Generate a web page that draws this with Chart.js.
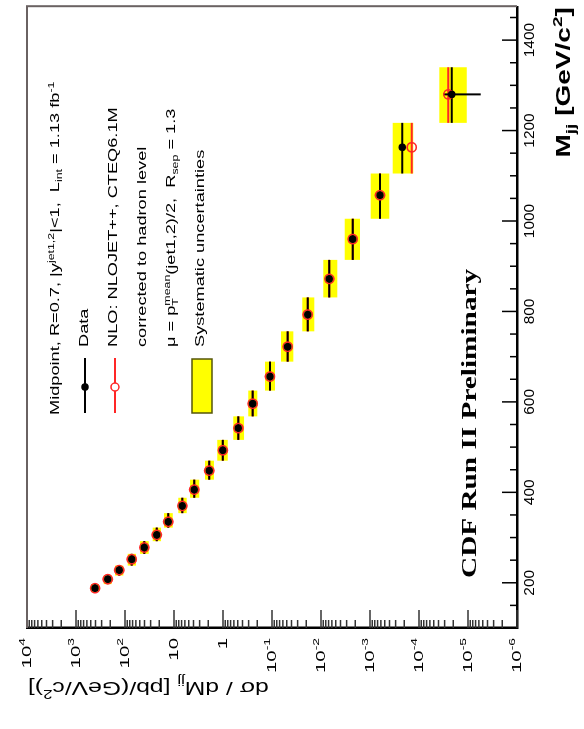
<!DOCTYPE html>
<html>
<head>
<meta charset="utf-8">
<script src="https://cdn.jsdelivr.net/npm/chart.js@4.4.0/dist/chart.umd.min.js"></script>
<style>
  html, body { margin: 0; padding: 0; background: #fff; }
  #wrap { position: relative; width: 584px; height: 729px; overflow: hidden; }
  /* the plot is laid out landscape and turned a quarter turn counter-clockwise */
  #chart { position: absolute; left: 0; top: 0; transform-origin: 0 0; transform: translateY(729px) rotate(-90deg); }
</style>
</head>
<body>
<div id="wrap"><canvas id="chart" width="729" height="584"></canvas></div>
<script>
// dijet mass bins [GeV/c^2]
const massBins = [180, 197, 216, 238, 264, 292, 322, 354, 388, 428, 470, 516, 568, 625, 689, 756, 831, 914, 1005, 1105, 1217, 1340];
const massPoints = [188, 208, 228, 252, 278, 306, 335, 370, 406, 448, 493, 542, 596, 656, 722, 793, 872, 960, 1057, 1163, 1280];

// dsigma/dMjj [pb/(GeV/c^2)]
const dataXsec = [409, 225, 131, 73, 40.4, 22.5, 13.1, 6.77, 3.86, 1.91, 1.01, 0.487, 0.248, 0.110, 0.0479, 0.0187, 0.00677, 0.00226, 6.25e-4, 2.19e-4, 2.15e-5];
const nloXsec = [409, 225, 131, 73, 40.4, 22.5, 13.1, 6.77, 3.86, 1.91, 1.01, 0.487, 0.248, 0.110, 0.0479, 0.0187, 0.00677, 0.00226, 6.25e-4, 1.41e-4, 2.52e-5];
const sysHigh = [494, 272, 160, 88.1, 49.4, 27.2, 16.0, 8.17, 4.71, 2.33, 1.31, 0.617, 0.305, 0.139, 0.0655, 0.0241, 0.00898, 0.00328, 9.68e-4, 3.44e-4, 3.85e-5];
const sysLow = [340, 187, 108, 59.7, 32.8, 18.4, 10.6, 5.51, 3.05, 1.53, 0.80, 0.372, 0.1995, 0.0869, 0.0367, 0.0137, 0.00465, 0.0016, 4.04e-4, 1.31e-4, 1.06e-5];
const statHigh = [null, null, null, null, null, null, null, null, null, null, null, null, null, null, null, null, null, null, null, 2.5e-4, 3.2e-5];
const statLow = [null, null, null, null, null, null, null, null, null, null, null, null, null, null, null, null, null, null, null, 1.9e-4, 5.5e-6];

// axes
const massMin = 100, massMax = 1475;
const xsecMin = 1e-6, xsecMax = 1e4;
const massTicks = [200, 400, 600, 800, 1000, 1200, 1400];
const massTickLabels = ['200', '400', '600', '800', '1000', '1200', '1400'];
const xsecTicks = [1e4, 1e3, 1e2, 1e1, 1, 1e-1, 1e-2, 1e-3, 1e-4, 1e-5, 1e-6];
const xsecTickLabels = [['10', '4'], ['10', '3'], ['10', '2'], ['10', ''], ['1', ''], ['10', '-1'], ['10', '-2'], ['10', '-3'], ['10', '-4'], ['10', '-5'], ['10', '-6']];

const SANS = '"Liberation Sans", Arial, sans-serif';
const SERIF = '"Liberation Serif", "Times New Roman", serif';
const RED = '#ff2626';

function fontFor(o, kind) {
  const s = (kind === 'sup' || kind === 'sub' || kind === 'subh') ? o.size * 0.68 : o.size;
  return (o.weight || 'normal') + ' ' + s + 'px ' + (o.family || SANS);
}

function richWidth(ctx, parts, o) {
  let w = 0;
  for (const [t, kind] of parts) {
    ctx.font = fontFor(o, kind);
    if (kind !== 'subh') w += ctx.measureText(t).width;
  }
  return w;
}

// draws text made of pieces, with sub/superscripts, widened by o.sx
function drawRich(ctx, parts, x, y, o) {
  const w = richWidth(ctx, parts, o);
  ctx.save();
  ctx.translate(x, y);
  if (o.rotate) ctx.rotate(o.rotate);
  ctx.scale(o.sx || 1, 1);
  ctx.fillStyle = o.color || '#000';
  ctx.textBaseline = 'alphabetic';
  ctx.textAlign = 'left';
  let cx = o.align === 'right' ? -w : o.align === 'center' ? -w / 2 : 0;
  for (const [t, kind] of parts) {
    ctx.font = fontFor(o, kind);
    let dy = 0;
    if (kind === 'sup') dy = -o.size * 0.42;
    if (kind === 'sub' || kind === 'subh') dy = o.size * 0.25;
    ctx.fillText(t, cx, dy);
    if (kind !== 'subh') cx += ctx.measureText(t).width;
  }
  ctx.restore();
}

// bin widths, systematic bands and statistical bars
const errorBars = {
  id: 'errorBars',
  beforeDatasetsDraw(chart) {
    const { ctx, scales: { x, y } } = chart;
    ctx.save();
    ctx.fillStyle = '#ffff00';
    massPoints.forEach((m, i) => {
      const x0 = x.getPixelForValue(massBins[i]);
      const x1 = x.getPixelForValue(massBins[i + 1]);
      const y0 = y.getPixelForValue(sysHigh[i]);
      const y1 = y.getPixelForValue(sysLow[i]);
      ctx.fillRect(x0, y0, x1 - x0, y1 - y0);
    });
    ctx.lineWidth = 2;
    ctx.strokeStyle = RED;
    massPoints.forEach((m, i) => {
      const yy = y.getPixelForValue(nloXsec[i]);
      ctx.beginPath();
      ctx.moveTo(x.getPixelForValue(massBins[i]), yy);
      ctx.lineTo(x.getPixelForValue(massBins[i + 1]), yy);
      ctx.stroke();
    });
    ctx.strokeStyle = '#000';
    massPoints.forEach((m, i) => {
      const yy = y.getPixelForValue(dataXsec[i]);
      ctx.beginPath();
      ctx.moveTo(x.getPixelForValue(massBins[i]), yy);
      ctx.lineTo(x.getPixelForValue(massBins[i + 1]), yy);
      ctx.stroke();
      if (statHigh[i] !== null) {
        const xx = x.getPixelForValue(m);
        ctx.beginPath();
        ctx.moveTo(xx, y.getPixelForValue(statHigh[i]));
        ctx.lineTo(xx, y.getPixelForValue(statLow[i]));
        ctx.stroke();
      }
    });
    ctx.restore();
  }
};

// frame, inward ticks, tick labels, titles and legend
const decorations = {
  id: 'decorations',
  afterDraw(chart) {
    const { ctx, chartArea: a, scales: { x, y } } = chart;
    ctx.save();

    // upper and far frame edges
    ctx.strokeStyle = '#6a6262';
    ctx.lineWidth = 2;
    ctx.beginPath();
    ctx.moveTo(a.left, a.top);
    ctx.lineTo(a.right, a.top);
    ctx.lineTo(a.right, a.bottom);
    ctx.stroke();

    // ticks pointing into the frame
    ctx.strokeStyle = '#000';
    ctx.lineWidth = 1.5;
    for (let m = massMin; m <= massMax; m += 50) {
      const px = x.getPixelForValue(m);
      const len = massTicks.includes(m) ? 15 : 7;
      ctx.beginPath();
      ctx.moveTo(px, a.bottom);
      ctx.lineTo(px, a.bottom - len);
      ctx.stroke();
    }
    ctx.strokeStyle = '#333';
    for (let e = -6; e < 4; e++) {
      for (let k = 1; k < 10; k++) {
        const py = y.getPixelForValue(k * Math.pow(10, e));
        const len = k === 1 ? 18 : 8;
        ctx.beginPath();
        ctx.moveTo(a.left, py);
        ctx.lineTo(a.left + len, py);
        ctx.stroke();
      }
    }

    // tick labels
    massTicks.forEach((v, i) => {
      drawRich(ctx, [[massTickLabels[i]]], x.getPixelForValue(v), a.bottom + 17, { size: 14, sx: 1.1, align: 'center' });
    });
    xsecTicks.forEach((v, i) => {
      const [base, exp] = xsecTickLabels[i];
      const parts = exp ? [[base], [exp, 'sup']] : [[base]];
      drawRich(ctx, parts, a.left - 10, y.getPixelForValue(v) + 3.5, { size: 12, sx: 1.7, align: 'right' });
    });

    // axis titles
    drawRich(ctx, [['M', 'normal'], ['jj', 'sub'], [' [GeV/c'], ['2', 'sup'], [']']], a.right - 1, a.bottom + 53,
      { size: 20, sx: 1.4, align: 'right', weight: 'bold' });
    drawRich(ctx, [['d\u03c3 / dM'], ['jj', 'sub'], [' [pb/(GeV/c'], ['2', 'sup'], [')]']], 47, a.top + 1,
      { size: 19, sx: 1.3, align: 'right', rotate: -Math.PI / 2 });

    // legend
    const lo = { size: 13, sx: 1.4 };
    drawRich(ctx, [['Midpoint, R=0.7, |y'], ['jet1,2', 'sup'], ['|<1,  L'], ['int', 'sub'], [' = 1.13 fb'], ['-1', 'sup']], 314, 59, lo);
    drawRich(ctx, [['Data']], 382, 88, lo);
    drawRich(ctx, [['NLO: NLOJET++, CTEQ6.1M']], 382, 117, lo);
    drawRich(ctx, [['corrected to hadron level']], 382, 146, lo);
    drawRich(ctx, [['\u03bc = p'], ['T', 'subh'], ['mean', 'sup'], ['(jet1,2)/2,  R'], ['sep', 'sub'], [' = 1.3']], 382, 175, lo);
    drawRich(ctx, [['Systematic uncertainties']], 382, 204, lo);

    ctx.lineWidth = 2;
    ctx.strokeStyle = '#000';
    ctx.beginPath(); ctx.moveTo(316, 85); ctx.lineTo(371, 85); ctx.stroke();
    ctx.fillStyle = '#000';
    ctx.beginPath(); ctx.arc(342, 85, 3.8, 0, Math.PI * 2); ctx.fill();
    ctx.strokeStyle = RED;
    ctx.beginPath(); ctx.moveTo(316, 115); ctx.lineTo(371, 115); ctx.stroke();
    ctx.fillStyle = '#fff';
    ctx.lineWidth = 1.5;
    ctx.beginPath(); ctx.arc(342, 115, 4, 0, Math.PI * 2); ctx.fill(); ctx.stroke();
    ctx.fillStyle = '#ffff00';
    ctx.strokeStyle = '#55550a';
    ctx.fillRect(316, 192, 54, 20);
    ctx.strokeRect(316, 192, 54, 20);

    drawRich(ctx, [['CDF Run II Preliminary']], 151, 476, { size: 22, sx: 1.33, family: SERIF, weight: 'bold' });
    ctx.restore();
  }
};

new Chart(document.getElementById('chart'), {
  type: 'scatter',
  data: {
    datasets: [
      {
        label: 'Data',
        data: massPoints.map((m, i) => ({ x: m, y: dataXsec[i] })),
        pointRadius: 3.8,
        pointBackgroundColor: '#000',
        pointBorderColor: '#000',
        pointBorderWidth: 0,
        order: 0
      },
      {
        label: 'NLO',
        data: massPoints.map((m, i) => ({ x: m, y: nloXsec[i] })),
        pointRadius: 4.6,
        pointBackgroundColor: 'rgba(255,255,255,0)',
        pointBorderColor: RED,
        pointBorderWidth: 1.6,
        order: 1
      }
    ]
  },
  options: {
    responsive: false,
    animation: false,
    layout: { padding: { top: 27, right: 2, left: 0, bottom: 0 } },
    plugins: { legend: { display: false }, tooltip: { enabled: false } },
    scales: {
      x: {
        type: 'linear',
        min: massMin,
        max: massMax,
        grid: { display: false },
        border: { display: true, color: '#000', width: 2.5 },
        ticks: { display: false },
        afterBuildTicks: s => { s.ticks = massTicks.map(v => ({ value: v })); },
        afterFit: s => { s.height = 67; }
      },
      y: {
        type: 'logarithmic',
        min: xsecMin,
        max: xsecMax,
        grid: { display: false },
        border: { display: true, color: '#000', width: 2.5 },
        ticks: { display: false },
        afterBuildTicks: s => { s.ticks = xsecTicks.map(v => ({ value: v })); },
        afterFit: s => { s.width = 101; }
      }
    }
  },
  plugins: [errorBars, decorations]
});
</script>
</body>
</html>
